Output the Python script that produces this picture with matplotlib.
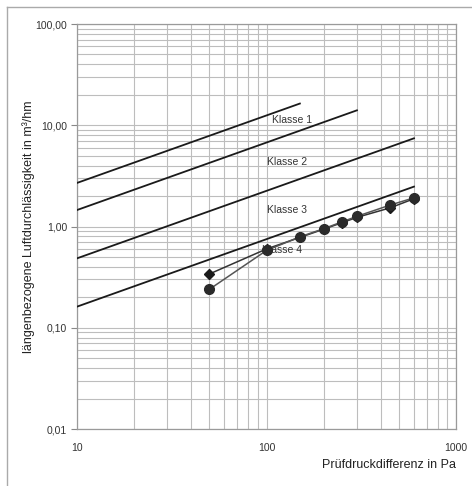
import matplotlib
matplotlib.use("Agg")
import matplotlib.pyplot as plt
from matplotlib.ticker import FixedLocator, LogLocator, NullFormatter, FixedFormatter
from matplotlib.lines import Line2D

plt.rcParams['font.family'] = ['Liberation Sans', 'DejaVu Sans']

# Class limit lines (EN 12207): reference at 100 Pa, exponent 2/3
class_names = ["Klasse 1", "Klasse 2", "Klasse 3", "Klasse 4"]
class_ref_100 = [12.5, 6.75, 2.25, 0.75]
class_p_max = [150, 300, 600, 600]
class_p_min = 10
class_label_x = [137, 129, 129, 120]
class_label_y = [11.3, 4.33, 1.46, 0.586]

# Measured series
pressure = [50, 100, 150, 200, 250, 300, 450, 600]
series_circle = [0.24, 0.58, 0.79, 0.95, 1.11, 1.26, 1.63, 1.92]
series_diamond = [0.34, 0.60, 0.78, 0.94, 1.09, 1.23, 1.53, 1.88]

x_ticks = [10, 100, 1000]
x_ticklabels = ["10", "100", "1000"]
y_ticks = [0.01, 0.1, 1, 10, 100]
y_ticklabels = ["0,01", "0,10", "1,00", "10,00", "100,00"]

fig = plt.figure(figsize=(4.72, 4.86), dpi=100)
fig.patch.set_facecolor("white")
ax = fig.add_axes([77/472, 1-429/486, (456-77)/472, (429-24)/486])

ax.set_xscale("log")
ax.set_yscale("log")
ax.set_xlim(10, 1000)
ax.set_ylim(0.01, 100)

grid_c = "#bdbdbd"
ax.xaxis.set_major_locator(FixedLocator(x_ticks))
ax.xaxis.set_major_formatter(FixedFormatter(x_ticklabels))
ax.xaxis.set_minor_locator(LogLocator(base=10, subs=range(2, 10)))
ax.xaxis.set_minor_formatter(NullFormatter())
ax.yaxis.set_major_locator(FixedLocator(y_ticks))
ax.yaxis.set_major_formatter(FixedFormatter(y_ticklabels))
ax.yaxis.set_minor_locator(LogLocator(base=10, subs=range(2, 10)))
ax.yaxis.set_minor_formatter(NullFormatter())
ax.grid(True, which="both", color=grid_c, linewidth=0.8)
ax.set_axisbelow(True)

for s in ax.spines.values():
    s.set_color("#9a9a9a")
    s.set_linewidth(0.9)

ax.tick_params(axis="x", which="both", length=0, pad=10, labelsize=7.5, labelcolor="#333333")
ax.tick_params(axis="y", which="major", length=4, width=0.8, color="#888888", pad=3, labelsize=7.5, labelcolor="#333333")
ax.tick_params(axis="y", which="minor", length=0)

for name, ref, pmax, lx, ly in zip(class_names, class_ref_100, class_p_max, class_label_x, class_label_y):
    xs = [class_p_min, pmax]
    ys = [ref * (p / 100.0) ** (2.0 / 3.0) for p in xs]
    ax.plot(xs, ys, color="#1a1a1a", linewidth=1.3, zorder=3)
    ax.text(lx, ly, name, fontsize=7.5, color="#333333", ha="center", va="center", zorder=4)

ax.plot(pressure, series_diamond, color="#333333", linewidth=1.1, marker="D",
        markersize=5, markerfacecolor="#1a1a1a", markeredgecolor="#1a1a1a", zorder=5)
ax.plot(pressure, series_circle, color="#555555", linewidth=1.1, marker="o",
        markersize=7, markerfacecolor="#2a2a2a", markeredgecolor="#2a2a2a", zorder=6)

ax.set_xlabel("Prüfdruckdifferenz in Pa", fontsize=9, color="#222222")
ax.xaxis.set_label_coords(1.0, -0.075)
ax.xaxis.label.set_horizontalalignment("right")
ax.set_ylabel("längenbezogene Luftdurchlässigkeit in m³/hm", fontsize=9, color="#222222")
ax.yaxis.set_label_coords(-0.11, 0.5)

# outer frame
fig.add_artist(Line2D([7/472, 7/472], [0, 1-7/486], transform=fig.transFigure, color="#aaaaaa", linewidth=1.0))
fig.add_artist(Line2D([7/472, 1], [1-7/486, 1-7/486], transform=fig.transFigure, color="#aaaaaa", linewidth=1.0))

fig.savefig("out.png", dpi=100, facecolor="white")
